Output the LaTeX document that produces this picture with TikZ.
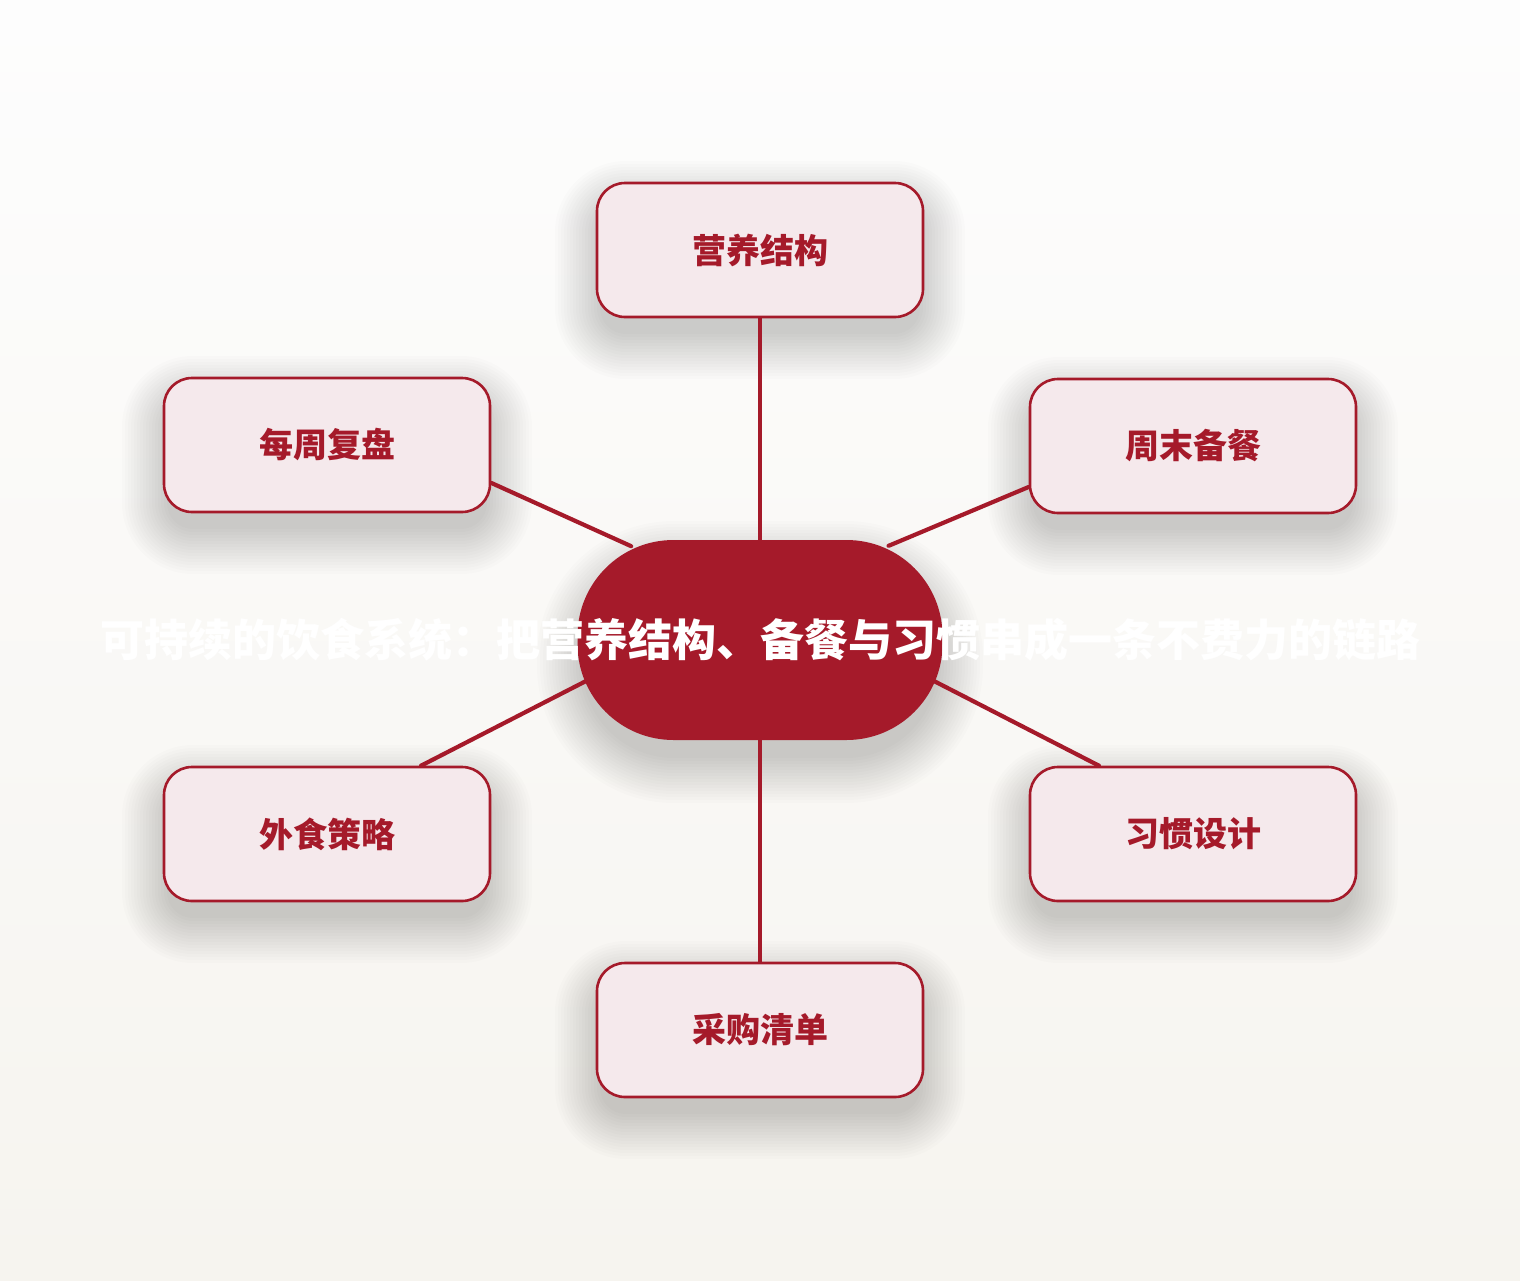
\documentclass[tikz,border=0pt]{standalone}
\usepackage{fontspec}
\newfontfamily\cjk{Noto Sans CJK SC}
\usetikzlibrary{backgrounds}

\definecolor{vinho}{HTML}{A51A2A}
\definecolor{rosado}{HTML}{F5E9EC}
\definecolor{fundotopo}{HTML}{FDFDFD}
\definecolor{fundobase}{HTML}{F6F4EF}

\tikzset{
  caixa/.style={draw=vinho, line width=1.3pt, fill=rosado, rounded corners=14pt,
    minimum width=163pt, minimum height=67pt, text=vinho,
    font=\cjk\bfseries\fontsize{17pt}{20pt}\selectfont},
  centro/.style={fill=vinho, rounded corners=48pt,
    minimum width=182.5pt, minimum height=100pt},
  titulo/.style={text=white, inner sep=0pt, font=\cjk\bfseries\fontsize{22pt}{26pt}\selectfont},
  ligacao/.style={draw=vinho, line width=2.1pt, line cap=round},
}

% sombra suave: centro x, centro y, meia largura, meia altura, raio
\newcommand{\sombra}[5]{%
  \foreach \d in {0,3,...,45} {
    \pgfmathsetmacro\rr{(#5+\d)/2}
    \fill[black, fill opacity=0.012, rounded corners=\rr pt]
      (#1-#3-\d,#2-#4-\d) rectangle (#1+#3+\d,#2+#4+\d);
  }%
}

\begin{document}
\begin{tikzpicture}[x=0.5pt, y=-0.5pt]
		% Fundo
		\useasboundingbox (0,0) rectangle (1520,1280);
		\begin{scope}[on background layer]
			\shade[top color=fundotopo, bottom color=fundobase] (0,0) rectangle (1520,1280);
		\end{scope}

		% Sombras
		\sombra{760}{662}{178}{96}{92}
		\sombra{760}{270}{160}{64}{26}
		\sombra{327}{465}{160}{64}{26}
		\sombra{1193}{466}{160}{64}{26}
		\sombra{327}{854}{160}{64}{26}
		\sombra{1193}{854}{160}{64}{26}
		\sombra{760}{1050}{160}{64}{26}

		% Nó central
		\node[centro] (hub) at (760,640) {};

		% Caixas
		\node[caixa] (nut)   at (760,250)  {营养结构};
		\node[caixa] (wk)    at (327,445)  {每周复盘};
		\node[caixa] (prep)  at (1193,446) {周末备餐};
		\node[caixa] (out)   at (327,834)  {外食策略};
		\node[caixa] (habit) at (1193,834) {习惯设计};
		\node[caixa] (shop)  at (760,1030) {采购清单};

		% Ligações
		\draw[ligacao] (nut.south) -- (hub.north);
		\draw[ligacao, shorten >=-8pt] (wk.-13)    -- (hub.145);
		\draw[ligacao, shorten >=-8pt] (prep.194)  -- (hub.35);
		\draw[ligacao, shorten >=-8pt] (out.36)    -- (hub.194);
		\draw[ligacao, shorten >=-8pt] (habit.144) -- (hub.-14);
		\draw[ligacao] (hub.south) -- (shop.north);

		% Título
		\node[titulo] (tit) at (hub.center) {可持续的饮食系统：把营养结构、备餐与习惯串成一条不费力的链路};
	\end{tikzpicture}
\end{document}
